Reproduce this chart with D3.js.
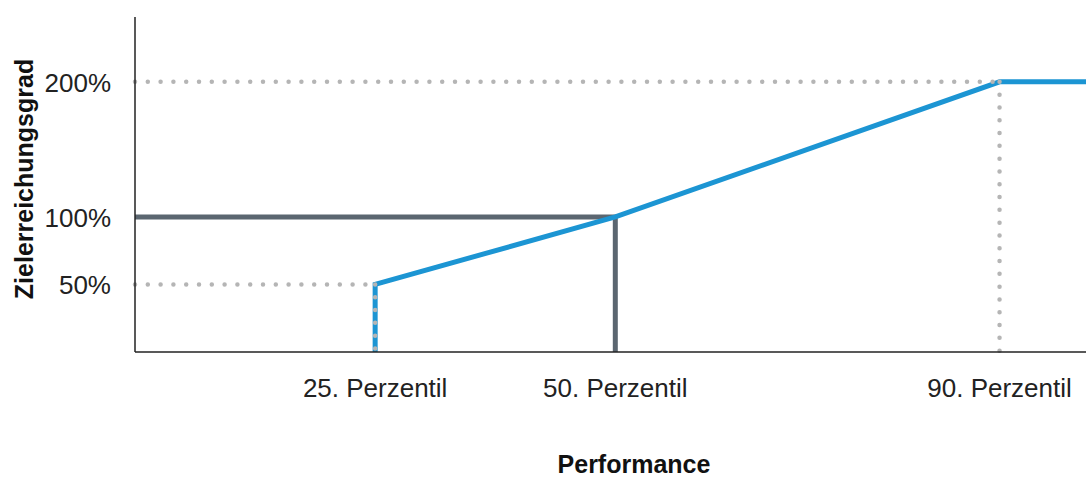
<!DOCTYPE html>
<html><head><meta charset="utf-8">
<script src="https://cdn.jsdelivr.net/npm/d3@7"></script>
<style>body{margin:0;background:#fff}svg{display:block}</style>
</head><body>
<svg id="c" width="1086" height="479"></svg>
<script>
// Data
const percentiles = [25, 50, 90];
const tickLabels = ["25. Perzentil", "50. Perzentil", "90. Perzentil"];
const yTicks = [50, 100, 200];
const yTickLabels = ["50%", "100%", "200%"];
const curveX = [25, 25, 50, 90, 99];
const curveY = [0, 50, 100, 200, 200];
const targetX = [0, 50, 50];
const targetY = [100, 100, 0];
const xLabel = "Performance";
const yLabel = "Zielerreichungsgrad";

const svg = d3.select("#c");
const x = d3.scaleLinear().domain([0, 99]).range([135, 1086]);
const y = d3.scaleLinear().domain([0, 248]).range([352, 17]);
const line = d3.line().x(d => x(d[0])).y(d => y(d[1]));

const blue = "#1c95d3", dark = "#5b6670", dot = "#b5b5b5";

svg.append("path").attr("d", line(targetX.map((v,i)=>[v,targetY[i]])))
  .attr("fill","none").attr("stroke",dark).attr("stroke-width",5);
svg.append("path").attr("d", line(curveX.map((v,i)=>[v,curveY[i]])))
  .attr("fill","none").attr("stroke",blue).attr("stroke-width",5);

const guides = [
  [[0,200],[90,200]],
  [[90,200],[90,0]],
  [[0,50],[25,50]],
  [[25,50],[25,0]]
];
svg.selectAll(".g").data(guides).enter().append("path")
  .attr("d", d => line(d)).attr("fill","none").attr("stroke",dot)
  .attr("stroke-width",4.5).attr("stroke-linecap","round").attr("stroke-dasharray","0,12.8");

svg.append("line").attr("x1",x(0)).attr("x2",x(0)).attr("y1",17).attr("y2",y(0))
  .attr("stroke","#222").attr("stroke-width",1.5);
svg.append("line").attr("x1",x(0)).attr("x2",1086).attr("y1",y(0)).attr("y2",y(0))
  .attr("stroke","#222").attr("stroke-width",1.5);

const font = "Liberation Sans, Arial, sans-serif";
svg.selectAll(".yt").data(yTicks).enter().append("text")
  .attr("x",111).attr("y",d=>y(d)+10).attr("text-anchor","end")
  .attr("font-family",font).attr("font-size",26).attr("fill","#222")
  .text((d,i)=>yTickLabels[i]);
svg.selectAll(".xt").data(percentiles).enter().append("text")
  .attr("x",d=>x(d)).attr("y",397).attr("text-anchor","middle")
  .attr("font-family",font).attr("font-size",26).attr("fill","#222")
  .text((d,i)=>tickLabels[i]);
svg.append("text").attr("x",634).attr("y",473).attr("text-anchor","middle")
  .attr("font-family",font).attr("font-size",25).attr("font-weight","bold").attr("fill","#111")
  .text(xLabel);
svg.append("text").attr("transform","translate(33,179) rotate(-90)").attr("text-anchor","middle")
  .attr("font-family",font).attr("font-size",25).attr("font-weight","bold").attr("fill","#111")
  .text(yLabel);
</script>
</body></html>
